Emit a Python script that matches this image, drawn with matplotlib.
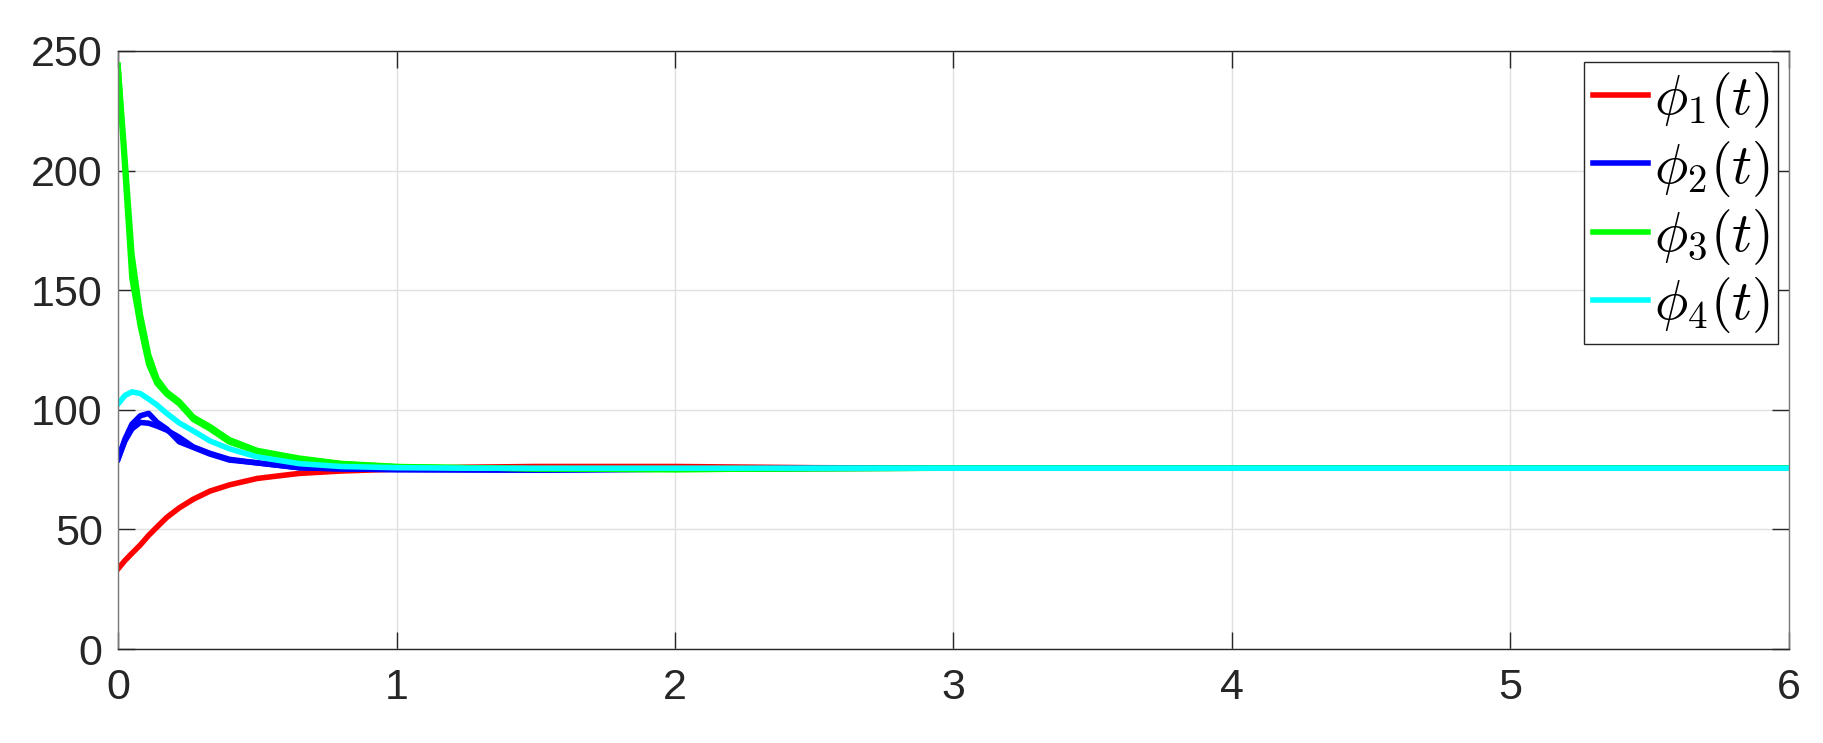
# phi(t) convergence plot

import matplotlib.pyplot as plt

plt.rcParams['font.family'] = ['Liberation Sans', 'DejaVu Sans']
plt.rcParams['mathtext.fontset'] = 'cm'

# time grid (s)
t = [0, 0.025, 0.05, 0.08, 0.11, 0.14, 0.175, 0.22, 0.27, 0.33, 0.4, 0.5,
     0.65, 0.8, 1.0, 1.25, 1.5, 2.0, 2.5, 3, 4, 5, 6]

phi1 = [33.5, 37, 40, 43.5, 47.5, 51, 55, 59, 62.6, 66, 68.6, 71.3,
        73.4, 74.4, 75.2, 76.0, 76.3, 76.3, 75.8, 75.6, 75.6, 75.6, 75.6]
phi2a = [79.4, 87.8, 94, 97.5, 98.5, 94.8, 92, 86.6, 84.3, 81.5, 79, 77.8,
         75.8, 75.3, 75.0, 74.9, 74.8, 75.2, 75.5, 75.6, 75.6, 75.6, 75.6]
phi2b = [79.4, 87, 92, 94.7, 94.4, 93.2, 91.5, 88.5, 84.5, 81.8, 79.3, 77.8,
         75.8, 75.3, 75.0, 74.9, 74.8, 75.2, 75.5, 75.6, 75.6, 75.6, 75.6]
phi3a = [244, 200, 155, 135, 119, 111, 106.5, 102.5, 96, 92, 86.5, 82.5,
         79.5, 77.4, 76.2, 75.8, 75.3, 75.0, 75.4, 75.6, 75.6, 75.6, 75.6]
phi3b = [244, 205, 165, 140, 123, 113, 107.5, 103.5, 97, 93, 87.5, 83,
         79.8, 77.6, 76.3, 75.8, 75.3, 75.0, 75.4, 75.6, 75.6, 75.6, 75.6]
phi4 = [102.4, 106, 107.5, 106.8, 104.5, 102, 98.5, 94.5, 91.2, 87, 83.7, 80.3,
        77.5, 76.3, 75.8, 75.6, 75.6, 75.6, 75.6, 75.6, 75.6, 75.6, 75.6]

xticks = [0, 1, 2, 3, 4, 5, 6]
yticks = [0, 50, 100, 150, 200, 250]

fig = plt.figure(figsize=(18.24, 7.43), dpi=100)
ax = fig.add_axes([0.0647, 0.1265, 0.9161, 0.8049])

lw = 4
ax.plot(t, phi1, color='#ff0000', lw=lw, label=r'$\phi_1(t)$')
ax.plot(t, phi2a, color='#0000ff', lw=lw, label=r'$\phi_2(t)$')
ax.plot(t, phi2b, color='#0000ff', lw=lw)
ax.plot(t, phi3a, color='#00ff00', lw=lw, label=r'$\phi_3(t)$')
ax.plot(t, phi3b, color='#00ff00', lw=lw)
ax.plot(t, phi4, color='#00ffff', lw=lw, label=r'$\phi_4(t)$')

ax.set_xlim(0, 6)
ax.set_ylim(0, 250)
ax.set_xticks(xticks)
ax.set_yticks(yticks)
ax.grid(True, color='#e0e0e0', lw=1)
ax.set_axisbelow(True)

for s in ax.spines.values():
    s.set_color('#262626')
    s.set_linewidth(1)
ax.spines['left'].set_color('#7a7a7a')
ax.spines['right'].set_color('#7a7a7a')
ax.tick_params(direction='in', length=12, width=1, color='#262626',
               top=True, right=True, labelsize=31, labelcolor='#262626')
ax.tick_params(axis='x', pad=14)
ax.tick_params(axis='y', pad=11)

leg = ax.legend(loc='upper right', fontsize=40, handlelength=1.0,
                handletextpad=0.1, labelspacing=0.15, borderpad=0.15,
                borderaxespad=0.2, fancybox=False, framealpha=1)
leg.get_frame().set_edgecolor('#262626')
leg.get_frame().set_linewidth(1)

plt.savefig('out.png', dpi=100)
